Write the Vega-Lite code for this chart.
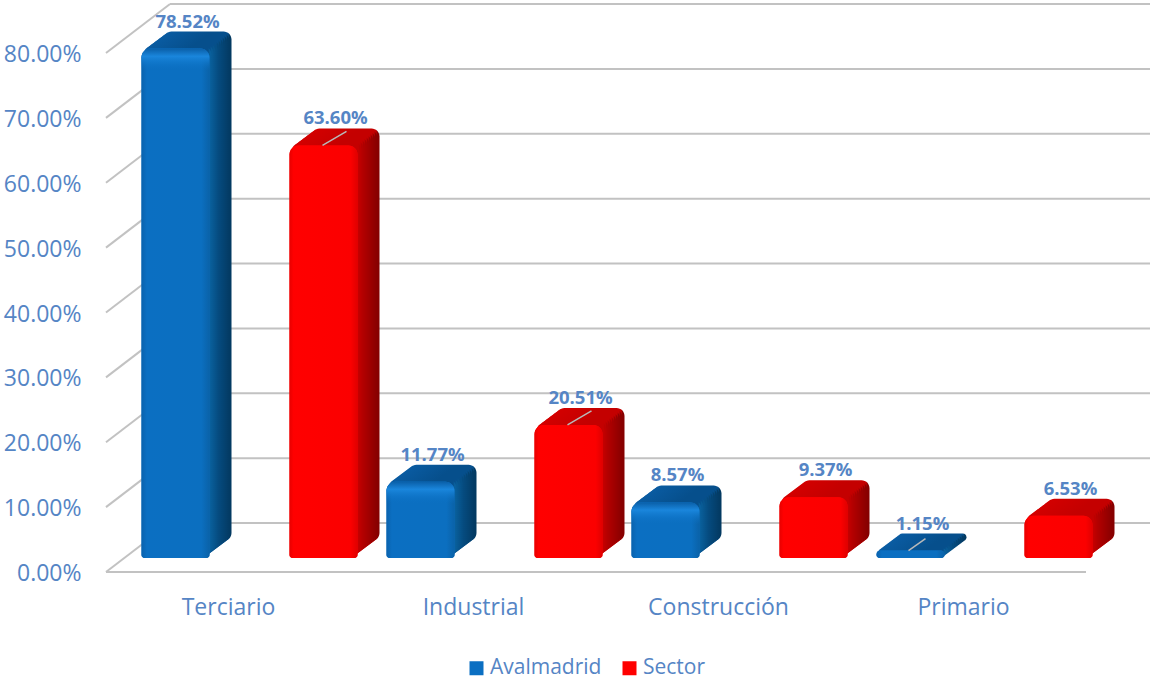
{
"$schema":"https://vega.github.io/schema/vega-lite/v6.json",
"width":980,"height":519,"autosize":"none",
"padding":{"left":106,"top":53,"right":64,"bottom":105},
"background":"white",
"config":{"view":{"stroke":null},"font":"Open Sans"},
"datasets":{
"filas":[
{"sector":"Terciario","serie":"Avalmadrid","valor":0.7852},
{"sector":"Terciario","serie":"Sector","valor":0.6360},
{"sector":"Industrial","serie":"Avalmadrid","valor":0.1177},
{"sector":"Industrial","serie":"Sector","valor":0.2051},
{"sector":"Construcción","serie":"Avalmadrid","valor":0.0857},
{"sector":"Construcción","serie":"Sector","valor":0.0937},
{"sector":"Primario","serie":"Avalmadrid","valor":0.0115},
{"sector":"Primario","serie":"Sector","valor":0.0653}],
"marcas":[{"v":0},{"v":0.1},{"v":0.2},{"v":0.3},{"v":0.4},{"v":0.5},{"v":0.6},{"v":0.7},{"v":0.8}]
},
"layer":[
{"data":{"name":"marcas"},"mark":{"type":"rule","color":"#c2c2c2","strokeWidth":2,"xOffset":64,"x2Offset":187,"yOffset":-49,"y2Offset":-49},
 "encoding":{"x":{"datum":"Terciario","bandPosition":0,"scale":{"domain":["Terciario","Industrial","Construcción","Primario"],"paddingInner":0,"paddingOuter":0},"axis":{"title":null,"domain":false,"ticks":false,"labelAngle":0,"labelAlign":"center","labelBaseline":"top","labelPadding":24,"labelFontSize":23,"labelColor":"#5585c5","labelFont":"Open Sans"}},"x2":{"datum":"Primario"},
  "y":{"field":"v","type":"quantitative","scale":{"domain":[0,0.8],"nice":false},"axis":{"title":null,"values":[0,0.1,0.2,0.3,0.4,0.5,0.6,0.7,0.8],"format":".2%","domain":false,"ticks":false,"grid":false,"labelPadding":25,"labelOffset":1.5,"labelFontSize":23,"labelColor":"#5585c5","labelFont":"Open Sans"}}}},
{"data":{"name":"marcas"},"mark":{"type":"rule","color":"#c2c2c2","strokeWidth":2,"x2Offset":-58.5,"y2Offset":-49},
 "encoding":{"x":{"datum":"Terciario","bandPosition":0},"x2":{"datum":"Terciario"},"y":{"field":"v","type":"quantitative"},"y2":{"field":"v"}}},
{"data":{"name":"marcas"},"transform":[{"filter":"datum.v===0"}],"mark":{"type":"rule","color":"#c2c2c2","strokeWidth":2},
 "encoding":{"y":{"field":"v","type":"quantitative"}}},
{"data":{"name":"filas"},"transform":[{"filter":"datum.serie==='Avalmadrid'"}],
 "encoding":{
  "x":{"field":"sector","type":"nominal","bandPosition":0},
  "y":{"field":"valor","type":"quantitative"}
 },
 "layer":[
 {"encoding":{"y2":{"datum":0}},"layer":[
 {"mark":{"type":"bar","width":68,"cornerRadius":8,"xOffset":-31,"yOffset":-31,"y2Offset":-31,"fill":{"gradient":"linear","x1":0,"x2":1,"y1":0,"y2":0,"stops":[{"offset":0,"color":"#0a5ca3"},{"offset":0.7,"color":"#064f8c"},{"offset":0.95,"color":"#064f8c"},{"offset":0.97,"color":"#033a62"},{"offset":1,"color":"#033a62"}]}}},
 {"mark":{"type":"bar","width":68,"cornerRadius":8,"xOffset":-33,"yOffset":-29.5,"y2Offset":-29.5,"fill":{"gradient":"linear","x1":0,"x2":1,"y1":0,"y2":0,"stops":[{"offset":0,"color":"#0a5ca3"},{"offset":0.7,"color":"#064f8c"},{"offset":0.95,"color":"#064f8c"},{"offset":0.97,"color":"#033c66"},{"offset":1,"color":"#033c66"}]}}},
 {"mark":{"type":"bar","width":68,"cornerRadius":8,"xOffset":-35,"yOffset":-28,"y2Offset":-28,"fill":{"gradient":"linear","x1":0,"x2":1,"y1":0,"y2":0,"stops":[{"offset":0,"color":"#0a5ca3"},{"offset":0.7,"color":"#064f8c"},{"offset":0.95,"color":"#064f8c"},{"offset":0.97,"color":"#043f6b"},{"offset":1,"color":"#043f6b"}]}}},
 {"mark":{"type":"bar","width":68,"cornerRadius":8,"xOffset":-37,"yOffset":-26.5,"y2Offset":-26.5,"fill":{"gradient":"linear","x1":0,"x2":1,"y1":0,"y2":0,"stops":[{"offset":0,"color":"#0a5ca3"},{"offset":0.7,"color":"#064f8c"},{"offset":0.95,"color":"#064f8c"},{"offset":0.97,"color":"#044270"},{"offset":1,"color":"#044270"}]}}},
 {"mark":{"type":"bar","width":68,"cornerRadius":8,"xOffset":-39,"yOffset":-25,"y2Offset":-25,"fill":{"gradient":"linear","x1":0,"x2":1,"y1":0,"y2":0,"stops":[{"offset":0,"color":"#0a5ca3"},{"offset":0.7,"color":"#064f8c"},{"offset":0.95,"color":"#064f8c"},{"offset":0.97,"color":"#044575"},{"offset":1,"color":"#044575"}]}}},
 {"mark":{"type":"bar","width":68,"cornerRadius":8,"xOffset":-41,"yOffset":-23.5,"y2Offset":-23.5,"fill":{"gradient":"linear","x1":0,"x2":1,"y1":0,"y2":0,"stops":[{"offset":0,"color":"#0a5ca3"},{"offset":0.7,"color":"#064f8c"},{"offset":0.95,"color":"#064f8c"},{"offset":0.97,"color":"#05487a"},{"offset":1,"color":"#05487a"}]}}},
 {"mark":{"type":"bar","width":68,"cornerRadius":8,"xOffset":-43,"yOffset":-22,"y2Offset":-22,"fill":{"gradient":"linear","x1":0,"x2":1,"y1":0,"y2":0,"stops":[{"offset":0,"color":"#0a5ca3"},{"offset":0.7,"color":"#064f8c"},{"offset":0.95,"color":"#064f8c"},{"offset":0.97,"color":"#054b7f"},{"offset":1,"color":"#054b7f"}]}}},
 {"mark":{"type":"bar","width":68,"cornerRadius":8,"xOffset":-45,"yOffset":-20.5,"y2Offset":-20.5,"fill":{"gradient":"linear","x1":0,"x2":1,"y1":0,"y2":0,"stops":[{"offset":0,"color":"#0a5ca3"},{"offset":0.7,"color":"#064f8c"},{"offset":0.95,"color":"#064f8c"},{"offset":0.97,"color":"#065086"},{"offset":1,"color":"#065086"}]}}},
 {"mark":{"type":"bar","width":68,"cornerRadius":8,"xOffset":-47,"yOffset":-19,"y2Offset":-19,"fill":{"gradient":"linear","x1":0,"x2":1,"y1":0,"y2":0,"stops":[{"offset":0,"color":"#0a5ca3"},{"offset":0.7,"color":"#064f8c"},{"offset":0.95,"color":"#064f8c"},{"offset":0.97,"color":"#07558d"},{"offset":1,"color":"#07558d"}]}}},
 {"mark":{"type":"bar","width":68,"cornerRadius":8,"xOffset":-49,"yOffset":-17.5,"y2Offset":-17.5,"fill":{"gradient":"linear","x1":0,"x2":1,"y1":0,"y2":0,"stops":[{"offset":0,"color":"#0a5ca3"},{"offset":0.7,"color":"#064f8c"},{"offset":0.95,"color":"#064f8c"},{"offset":0.97,"color":"#085a94"},{"offset":1,"color":"#085a94"}]}}},
 {"mark":{"type":"bar","width":68,"cornerRadius":8,"xOffset":-51,"yOffset":-16,"y2Offset":-16,"fill":{"gradient":"linear","x1":0,"x2":1,"y1":0,"y2":0,"stops":[{"offset":0,"color":"#0a5ca3"},{"offset":0.7,"color":"#064f8c"},{"offset":0.95,"color":"#064f8c"},{"offset":0.97,"color":"#095f9b"},{"offset":1,"color":"#095f9b"}]}}},
 {"mark":{"type":"bar","width":68,"cornerRadiusTopLeft":9,"cornerRadiusTopRight":9,"cornerRadiusBottomLeft":3,"cornerRadiusBottomRight":3,"xOffset":-53,"yOffset":-14,"y2Offset":-14},
  "encoding":{"color":{"field":"serie","type":"nominal","scale":{"domain":["Avalmadrid","Sector"],"range":["#0b6fc2","#ff0000"]},
    "legend":{"orient":"none","legendX":360,"legendY":604.5,"direction":"horizontal","title":null,"symbolType":"square","symbolSize":196,"symbolStrokeWidth":0,"labelFontSize":21,"labelColor":"#5585c5","labelFont":"Open Sans","columnPadding":17,"labelOffset":3,
     "encode":{"symbols":{"update":{"fill":[{"test":"datum.value==='Sector'","value":{"gradient":"linear","x1":0,"x2":1,"y1":0,"y2":1,"stops":[{"offset":0,"color":"#ff0000"},{"offset":0.6,"color":"#e00000"},{"offset":1,"color":"#8c0000"}]}},{"value":{"gradient":"linear","x1":0,"x2":1,"y1":0,"y2":1,"stops":[{"offset":0,"color":"#0b6fc2"},{"offset":0.6,"color":"#0a5ca3"},{"offset":1,"color":"#033c68"}]}}]}}}}}}},
 {"mark":{"type":"bar","width":68,"cornerRadiusTopLeft":9,"cornerRadiusTopRight":9,"cornerRadiusBottomLeft":3,"cornerRadiusBottomRight":3,"xOffset":-53,"yOffset":-14,"y2Offset":-14,"fill":{"gradient":"linear","x1":0,"x2":1,"y1":0,"y2":0,"stops":[{"offset":0,"color":"#0a62ad"},{"offset":0.08,"color":"#0b6fc2"},{"offset":0.88,"color":"#0b6fc0"},{"offset":1,"color":"#0a62a8"}]}}}
 ]},
 {"transform":[{"filter":"datum.valor>0.05"}],
  "mark":{"type":"bar","width":68,"cornerRadiusTopLeft":9,"cornerRadiusTopRight":9,"xOffset":-53,"yOffset":-14,"y2Offset":8,"fill":{"gradient":"linear","x1":0,"x2":0,"y1":0,"y2":1,"stops":[{"offset":0,"color":"#0a5fa8"},{"offset":0.35,"color":"#1a86dc"},{"offset":1,"color":"rgba(11,111,194,0)"}]}},
  "encoding":{"y2":{"field":"valor"}}},
 {"transform":[{"filter":{"field":"valor","oneOf":[0.0115]}}],
  "mark":{"type":"rule","color":"#b9b9b9","strokeWidth":1.5,"xOffset":67.5,"x2Offset":-38,"yOffset":-14,"y2Offset":-26},
  "encoding":{"x2":{"field":"sector"},"y2":{"field":"valor"}}},
 {"mark":{"type":"text","color":"#5585c5","xOffset":81.5,"yOffset":-41,"fontSize":18.5,"fontWeight":"bold","font":"Open Sans","baseline":"middle","align":"center"},
  "encoding":{"text":{"field":"valor","type":"quantitative","format":".2%"}}}
 ]},
{"data":{"name":"filas"},"transform":[{"filter":"datum.serie==='Sector'"}],
 "encoding":{
  "x":{"field":"sector","type":"nominal","bandPosition":0},
  "y":{"field":"valor","type":"quantitative"}
 },
 "layer":[
 {"encoding":{"y2":{"datum":0}},"layer":[
 {"mark":{"type":"bar","width":68,"cornerRadius":8,"xOffset":117,"yOffset":-31,"y2Offset":-31,"fill":{"gradient":"linear","x1":0,"x2":1,"y1":0,"y2":0,"stops":[{"offset":0,"color":"#d40000"},{"offset":0.7,"color":"#c40000"},{"offset":0.95,"color":"#c40000"},{"offset":0.97,"color":"#860000"},{"offset":1,"color":"#860000"}]}}},
 {"mark":{"type":"bar","width":68,"cornerRadius":8,"xOffset":115,"yOffset":-29.5,"y2Offset":-29.5,"fill":{"gradient":"linear","x1":0,"x2":1,"y1":0,"y2":0,"stops":[{"offset":0,"color":"#d40000"},{"offset":0.7,"color":"#c40000"},{"offset":0.95,"color":"#c40000"},{"offset":0.97,"color":"#8a0000"},{"offset":1,"color":"#8a0000"}]}}},
 {"mark":{"type":"bar","width":68,"cornerRadius":8,"xOffset":113,"yOffset":-28,"y2Offset":-28,"fill":{"gradient":"linear","x1":0,"x2":1,"y1":0,"y2":0,"stops":[{"offset":0,"color":"#d40000"},{"offset":0.7,"color":"#c40000"},{"offset":0.95,"color":"#c40000"},{"offset":0.97,"color":"#900000"},{"offset":1,"color":"#900000"}]}}},
 {"mark":{"type":"bar","width":68,"cornerRadius":8,"xOffset":111,"yOffset":-26.5,"y2Offset":-26.5,"fill":{"gradient":"linear","x1":0,"x2":1,"y1":0,"y2":0,"stops":[{"offset":0,"color":"#d40000"},{"offset":0.7,"color":"#c40000"},{"offset":0.95,"color":"#c40000"},{"offset":0.97,"color":"#960000"},{"offset":1,"color":"#960000"}]}}},
 {"mark":{"type":"bar","width":68,"cornerRadius":8,"xOffset":109,"yOffset":-25,"y2Offset":-25,"fill":{"gradient":"linear","x1":0,"x2":1,"y1":0,"y2":0,"stops":[{"offset":0,"color":"#d40000"},{"offset":0.7,"color":"#c40000"},{"offset":0.95,"color":"#c40000"},{"offset":0.97,"color":"#9c0000"},{"offset":1,"color":"#9c0000"}]}}},
 {"mark":{"type":"bar","width":68,"cornerRadius":8,"xOffset":107,"yOffset":-23.5,"y2Offset":-23.5,"fill":{"gradient":"linear","x1":0,"x2":1,"y1":0,"y2":0,"stops":[{"offset":0,"color":"#d40000"},{"offset":0.7,"color":"#c40000"},{"offset":0.95,"color":"#c40000"},{"offset":0.97,"color":"#a20000"},{"offset":1,"color":"#a20000"}]}}},
 {"mark":{"type":"bar","width":68,"cornerRadius":8,"xOffset":105,"yOffset":-22,"y2Offset":-22,"fill":{"gradient":"linear","x1":0,"x2":1,"y1":0,"y2":0,"stops":[{"offset":0,"color":"#d40000"},{"offset":0.7,"color":"#c40000"},{"offset":0.95,"color":"#c40000"},{"offset":0.97,"color":"#a80000"},{"offset":1,"color":"#a80000"}]}}},
 {"mark":{"type":"bar","width":68,"cornerRadius":8,"xOffset":103,"yOffset":-20.5,"y2Offset":-20.5,"fill":{"gradient":"linear","x1":0,"x2":1,"y1":0,"y2":0,"stops":[{"offset":0,"color":"#d40000"},{"offset":0.7,"color":"#c40000"},{"offset":0.95,"color":"#c40000"},{"offset":0.97,"color":"#ae0000"},{"offset":1,"color":"#ae0000"}]}}},
 {"mark":{"type":"bar","width":68,"cornerRadius":8,"xOffset":101,"yOffset":-19,"y2Offset":-19,"fill":{"gradient":"linear","x1":0,"x2":1,"y1":0,"y2":0,"stops":[{"offset":0,"color":"#d40000"},{"offset":0.7,"color":"#c40000"},{"offset":0.95,"color":"#c40000"},{"offset":0.97,"color":"#b40000"},{"offset":1,"color":"#b40000"}]}}},
 {"mark":{"type":"bar","width":68,"cornerRadius":8,"xOffset":99,"yOffset":-17.5,"y2Offset":-17.5,"fill":{"gradient":"linear","x1":0,"x2":1,"y1":0,"y2":0,"stops":[{"offset":0,"color":"#d40000"},{"offset":0.7,"color":"#c40000"},{"offset":0.95,"color":"#c40000"},{"offset":0.97,"color":"#bc0000"},{"offset":1,"color":"#bc0000"}]}}},
 {"mark":{"type":"bar","width":68,"cornerRadius":8,"xOffset":97,"yOffset":-16,"y2Offset":-16,"fill":{"gradient":"linear","x1":0,"x2":1,"y1":0,"y2":0,"stops":[{"offset":0,"color":"#d40000"},{"offset":0.7,"color":"#c40000"},{"offset":0.95,"color":"#c40000"},{"offset":0.97,"color":"#c40000"},{"offset":1,"color":"#c40000"}]}}},
 {"mark":{"type":"bar","width":68,"cornerRadiusTopLeft":9,"cornerRadiusTopRight":9,"cornerRadiusBottomLeft":3,"cornerRadiusBottomRight":3,"xOffset":95,"yOffset":-14,"y2Offset":-14},
  "encoding":{"color":{"field":"serie","type":"nominal","scale":{"domain":["Avalmadrid","Sector"],"range":["#0b6fc2","#ff0000"]},"legend":null}}},
 {"mark":{"type":"bar","width":68,"cornerRadiusTopLeft":9,"cornerRadiusTopRight":9,"cornerRadiusBottomLeft":3,"cornerRadiusBottomRight":3,"xOffset":95,"yOffset":-14,"y2Offset":-14,"fill":{"gradient":"linear","x1":0,"x2":1,"y1":0,"y2":0,"stops":[{"offset":0,"color":"#e80000"},{"offset":0.06,"color":"#ff0000"},{"offset":0.9,"color":"#fb0000"},{"offset":1,"color":"#e00000"}]}}}
 ]},
 {"transform":[{"filter":{"field":"valor","oneOf":[0.636,0.2051]}}],
  "mark":{"type":"rule","color":"#b9b9b9","strokeWidth":1.5,"xOffset":216.5,"x2Offset":118,"yOffset":-14,"y2Offset":-28},
  "encoding":{"x2":{"field":"sector"},"y2":{"field":"valor"}}},
 {"mark":{"type":"text","color":"#5585c5","xOffset":229.5,"yOffset":-41,"fontSize":18.5,"fontWeight":"bold","font":"Open Sans","baseline":"middle","align":"center"},
  "encoding":{"text":{"field":"valor","type":"quantitative","format":".2%"}}}
 ]}
]
}
